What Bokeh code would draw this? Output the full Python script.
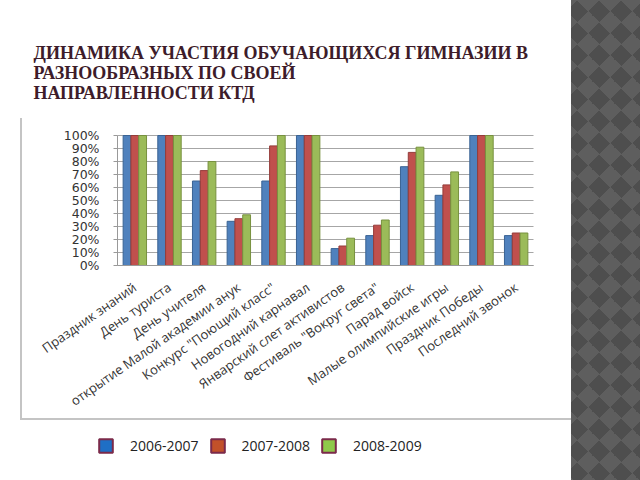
from bokeh.plotting import figure
from bokeh.models import (FactorRange, Range1d, NumeralTickFormatter, Legend, LegendItem,
                          Title, ColumnDataSource)
from bokeh.transform import dodge
from bokeh.embed import file_html
from bokeh.resources import INLINE

title_lines = ["ДИНАМИКА УЧАСТИЯ ОБУЧАЮЩИХСЯ ГИМНАЗИИ В",
               "РАЗНООБРАЗНЫХ ПО СВОЕЙ",
               "НАПРАВЛЕННОСТИ КТД"]

categories = ["Праздник знаний", "День туриста", "День учителя",
              "открытие Малой академии анук", "Конкурс \"Поющий класс\"",
              "Новогодний карнавал", "Январский слет активистов",
              "Фестиваль \"Вокруг света\"", "Парад войск",
              "Малые олимпийские игры", "Праздник Победы", "Последний звонок"]

series_names = ["2006-2007", "2007-2008", "2008-2009"]
v2006 = [1.00, 1.00, 0.65, 0.34, 0.65, 1.00, 0.13, 0.23, 0.76, 0.54, 1.00, 0.23]
v2007 = [1.00, 1.00, 0.73, 0.36, 0.92, 1.00, 0.15, 0.31, 0.87, 0.62, 1.00, 0.25]
v2008 = [1.00, 1.00, 0.80, 0.39, 1.00, 1.00, 0.21, 0.35, 0.91, 0.72, 1.00, 0.25]
y_ticks = [0.0, 0.1, 0.2, 0.3, 0.4, 0.5, 0.6, 0.7, 0.8, 0.9, 1.0]

bar_fill = ["#4F81BD", "#C0504D", "#9BBB59"]
bar_line = ["#3A6393", "#943C3A", "#77913F"]
legend_fill = ["#1F6FC5", "#C2512A", "#8FC94B"]
legend_line = "#7B2A4A"

# Layout (pixels): value area spans x 117..533 and y 135..265; the frame is larger so that
# the rotated category labels, the top tick label and the legend lie inside it.
FRAME_LEFT, AREA_LEFT, AREA_RIGHT = 30, 117, 533
FRAME_TOP, AREA_TOP, AREA_BOTTOM = 125, 135, 265
CAT_PX = (AREA_RIGHT - AREA_LEFT) / len(categories)
PAD = (AREA_LEFT - FRAME_LEFT) / CAT_PX
FRAME_RIGHT = AREA_RIGHT + (AREA_LEFT - FRAME_LEFT)
PX_PER_UNIT = float(AREA_BOTTOM - AREA_TOP)
y_start = -(480 - AREA_BOTTOM) / PX_PER_UNIT
y_end = 1.0 + (AREA_TOP - FRAME_TOP) / PX_PER_UNIT

src = ColumnDataSource(dict(cat=categories, v2006=v2006, v2007=v2007, v2008=v2008))
p = figure(x_range=FactorRange(factors=categories, range_padding=PAD,
                               range_padding_units="absolute"),
           y_range=Range1d(y_start, y_end),
           width=640, height=480, output_backend="svg", toolbar_location=None,
           min_border_left=FRAME_LEFT, min_border_right=640 - int(round(FRAME_RIGHT)),
           min_border_top=FRAME_TOP, min_border_bottom=0)
p.title.visible = False
p.border_fill_alpha = 0
p.background_fill_alpha = 0

# slide decoration (chart box edges and the patterned strip on the right) as CSS background
slide_bg = ", ".join([
    "linear-gradient(#C4C4C4, #C4C4C4) 20px 118px / 2px 302px no-repeat",
    "linear-gradient(#C4C4C4, #C4C4C4) 20px 418px / 551px 2px no-repeat",
    "linear-gradient(#FFFFFF, #FFFFFF) 0px 0px / 571px 100% no-repeat",
    "conic-gradient(from 45deg, #4E4E4E 25%, #5E5E5E 0 50%, #4E4E4E 0 75%, #5E5E5E 0) 5px 0px / 22px 22px #585858",
])
p.styles = {"background": slide_bg}

# horizontal grid lines limited to the value area
grid = p.ygrid[0]
grid.ticker = y_ticks
if "cross_bounds" in grid.properties():
    grid.cross_bounds = (0, len(categories))
    grid.grid_line_color = "#A6A6A6"
else:
    grid.grid_line_color = None
    p.segment(x0=0, x1=len(categories), y0=y_ticks, y1=y_ticks,
              line_color="#A6A6A6", line_width=1)
p.xgrid.grid_line_color = None

offsets = [-0.225, 0.0, 0.225]
for key, off, fc, lc in zip(["v2006", "v2007", "v2008"], offsets, bar_fill, bar_line):
    p.vbar(x=dodge("cat", off, range=p.x_range), top=key, width=0.225, source=src,
           fill_color=fc, line_color=lc, line_width=1)

p.outline_line_color = None
p.yaxis.fixed_location = 0
p.yaxis.ticker = y_ticks
p.yaxis.bounds = (0, 1)
p.yaxis.formatter = NumeralTickFormatter(format="0%")
p.yaxis.major_label_text_font = "DejaVu Sans"
p.yaxis.major_label_text_font_size = "12.5px"
p.yaxis.major_label_text_color = "#333333"
p.yaxis.axis_line_color = "#999999"
p.yaxis.major_tick_line_color = "#999999"
p.yaxis.major_tick_in = 0
p.yaxis.major_tick_out = 4
p.yaxis.minor_tick_line_color = None
p.yaxis.major_label_standoff = 14
p.xaxis.fixed_location = 0
p.xaxis.bounds = (0, len(categories))
p.xaxis.axis_line_color = "#999999"
p.xaxis.major_tick_line_color = None
p.xaxis.major_label_orientation = 0.61
p.xaxis.major_label_text_font = "Open Sans"
p.xaxis.major_label_text_font_size = "13px"
p.xaxis.major_label_text_color = "#333333"
p.xaxis.major_label_standoff = 14

# title block above the chart box (offset is measured from the frame's left edge)
p.add_layout(Title(text=" ", text_font_size="5px"), "above")
p.add_layout(Title(text="\n".join(title_lines), align="left", offset=33 - FRAME_LEFT,
                   text_font="Times New Roman", text_font_style="bold",
                   text_font_size="18px", text_color="#3D1C2A", text_line_height=1.0),
             "above")

# legend below the chart box (proxy renderers carry the swatch colours; NaN keeps them undrawn)
items = []
for name, fc in zip(series_names, legend_fill):
    r = p.vbar(x=[categories[0]], top=[float("nan")], width=0.1,
               fill_color=fc, line_color=legend_line, line_width=2)
    items.append(LegendItem(label=name, renderers=[r]))
leg = Legend(items=items, orientation="horizontal", location=(99 - 2 - FRAME_LEFT, 25),
             border_line_color=None, background_fill_alpha=0, padding=0, margin=0,
             glyph_width=17, glyph_height=17, label_height=17, label_standoff=16, spacing=10,
             label_text_font="Open Sans", label_text_font_size="14px",
             label_text_color="#222222")
p.add_layout(leg)

open("out.html", "w").write(file_html(p, INLINE))
